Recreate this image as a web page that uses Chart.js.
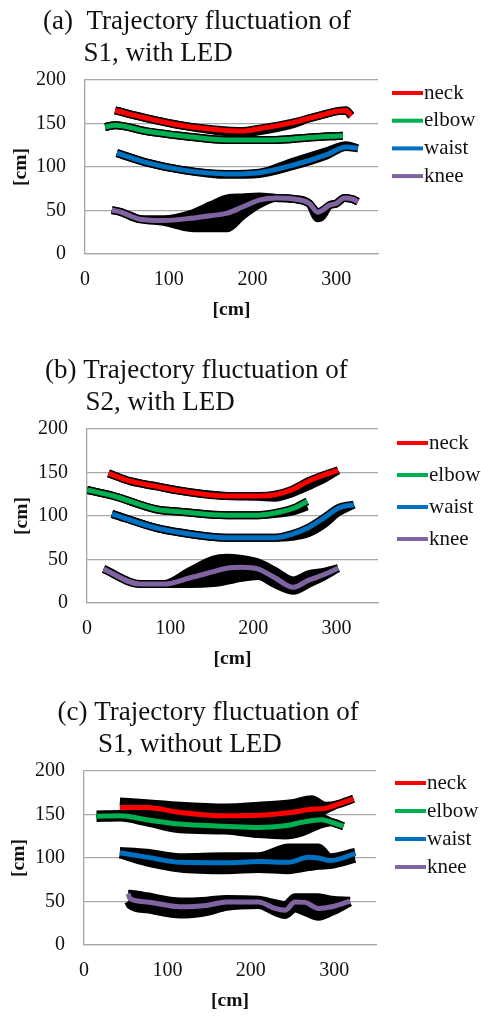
<!DOCTYPE html>
<html>
<head>
<meta charset="utf-8">
<script src="https://cdn.jsdelivr.net/npm/chart.js@4.4.1/dist/chart.umd.min.js"></script>
<style>
  html, body { margin: 0; padding: 0; background: #fff; }
  body { width: 481px; height: 1017px; position: relative; overflow: hidden; }
  canvas { position: absolute; left: 0; }
</style>
</head>
<body>
<canvas id="chartA" width="481" height="326" style="top:0px"></canvas>
<canvas id="chartB" width="481" height="326" style="top:349px"></canvas>
<canvas id="chartC" width="481" height="326" style="top:691px"></canvas>
<script>
// Labels / ticks
const partNames = ['neck', 'elbow', 'waist', 'knee'];
const partColors = ['#ff0000', '#00b050', '#0070c0', '#8064a2'];
const yTicks = [0, 50, 100, 150, 200];
const xTicks = [0, 100, 200, 300];

// (a) S1, with LED  -- x, centre line, upper / lower edge of the black fluctuation band
const aNeckX  = [36, 74, 114, 170, 190, 208, 248, 268, 288, 300, 312, 318];
const aNeckY  = [165, 156, 148, 142, 141.5, 144, 151, 156, 161, 164, 165, 159];
const aNeckHi = [165, 156, 148, 142, 141.5, 144, 151, 156, 161, 164, 165, 159];
const aNeckLo = [165, 156, 148, 140, 139, 141, 149, 156, 161, 164, 165, 159];
const aElbowX  = [24, 36, 74, 114, 170, 228, 268, 308];
const aElbowY  = [146, 148, 141, 136, 131, 131, 134, 136];
const aElbowHi = [146, 148, 141, 136, 131, 131, 134, 136];
const aElbowLo = [146, 148, 141, 136, 131, 131, 134, 136];
const aWaistX  = [38, 74, 114, 170, 208, 248, 288, 312, 326];
const aWaistY  = [116, 105, 97, 92, 93.5, 102, 114, 123, 121.5];
const aWaistHi = [116, 105, 97, 92, 93.5, 106, 118, 125, 121.5];
const aWaistLo = [116, 105, 97, 91, 92, 101, 113, 123, 121.5];
const aKneeX  = [32, 42, 66, 94, 126, 150, 170, 188, 208, 228, 252, 268, 278, 284, 292, 300, 310, 320, 326];
const aKneeY  = [50.5, 48.5, 40, 38.5, 41, 44, 47, 54, 62, 64.5, 63, 58, 48, 50.5, 56, 58, 64.5, 63, 60];
const aKneeHi = [50.5, 48.5, 40, 40, 46, 56, 64, 65, 66, 64.5, 63, 58, 48, 50.5, 56, 58, 64.5, 63, 60];
const aKneeLo = [50.5, 48.5, 40, 37, 30, 29.5, 29.5, 44, 57, 64.5, 63, 58, 41, 44, 56, 58, 64.5, 63, 60];

// (b) S2, with LED
const bNeckX  = [26, 52, 84, 112, 168, 206, 226, 246, 266, 286, 302];
const bNeckY  = [149, 140, 134, 129, 123, 123, 124.5, 130, 140, 147.5, 152.5];
const bNeckHi = [149, 140, 134, 129, 123, 123, 124.5, 130, 140, 147.5, 152.5];
const bNeckLo = [149, 140, 134, 129, 123, 122, 121, 126, 134, 143, 152.5];
const bElbowX  = [0, 32, 84, 112, 168, 206, 234, 250, 265];
const bElbowY  = [130, 123, 107.5, 105, 101, 101, 105, 109.5, 117];
const bElbowHi = [130, 123, 107.5, 105, 101, 101, 105, 109.5, 117];
const bElbowLo = [130, 123, 107.5, 105, 101, 101, 103, 106, 111];
const bWaistX  = [30, 84, 112, 168, 226, 246, 266, 286, 302, 321];
const bWaistY  = [102.5, 86, 81, 75, 75, 79, 86.5, 98.5, 109, 113];
const bWaistHi = [102.5, 86, 81, 75, 75, 79, 86.5, 98.5, 109, 113];
const bWaistLo = [102.5, 86, 81, 75, 75, 76, 80, 91, 104, 113];
const bKneeX  = [20, 64, 92, 124, 152, 168, 186, 206, 226, 248, 266, 286, 302];
const bKneeY  = [39, 21.7, 21.7, 29, 36, 40, 41, 39, 29, 18, 26, 33, 40];
const bKneeHi = [39, 21.7, 21.7, 37, 50, 52, 50.5, 46.5, 37, 26, 33, 36, 40];
const bKneeLo = [39, 21.7, 21.7, 21.7, 23, 25.5, 29, 31, 21.7, 14, 21.7, 31, 40];

// (c) S1, without LED
const cNeckX  = [43, 75, 115, 170, 209, 249, 273, 289, 305, 323];
const cNeckY  = [158, 158, 152.5, 148.5, 149, 152.5, 156, 157, 162, 168];
const cNeckHi = [165, 163, 160, 158, 160, 163, 167.5, 160, 162, 168];
const cNeckLo = [154, 152, 147, 143, 141, 143, 147, 155, 162, 168];
const cElbowX  = [15, 43, 75, 115, 169, 209, 241, 261, 285, 297, 311];
const cElbowY  = [148, 148.5, 144, 139, 136.5, 135, 137, 141, 144, 141, 136.5];
const cElbowHi = [150, 150.5, 146, 141, 138.5, 137, 140, 144, 146, 141, 136.5];
const cElbowLo = [146, 146.5, 141, 133, 131.5, 127.5, 126, 129.5, 139, 141, 136.5];
const cWaistX  = [43, 75, 115, 171, 209, 245, 269, 281, 295, 325];
const cWaistY  = [106, 101, 95, 94.5, 96, 95, 101, 100, 97, 105];
const cWaistHi = [108, 106, 101, 102, 102, 112, 112, 112, 101, 107];
const cWaistLo = [104, 95, 88, 86, 87.5, 86, 89.5, 91, 92, 99];
const cKneeX  = [53, 55, 75, 115, 147, 171, 209, 229, 241, 253, 265, 281, 297, 319];
const cKneeY  = [59, 53.5, 49.5, 44, 45.5, 49.5, 49.5, 42, 40, 49.5, 49, 42, 44, 50.5];
const cKneeHi = [59, 59, 56, 50, 51, 53, 52, 48, 46, 55, 55, 55, 52, 51];
const cKneeLo = [50, 46, 41, 35, 38, 44, 46, 38, 34.5, 42, 38, 32.5, 38, 49];

const serif = "'Liberation Serif', 'Times New Roman', serif";
const gridGray = '#a6a6a6';
const textColor = '#111';

function pts(xs, ys) {
    return xs.map((x, i) => ({x: x, y: ys[i]}));
}

// legend drawn to the right of the plot, line sample touching the text
const sideLegend = {
    id: 'sideLegend',
    afterDraw(chart, args, opts) {
        const {ctx, chartArea} = chart;
        ctx.save();
        ctx.font = '21px ' + serif;
        ctx.textAlign = 'left';
        ctx.textBaseline = 'alphabetic';
        chart.data.datasets.filter(d => d.label).forEach((d, i) => {
            const y = chartArea.top + opts.top + i * opts.gap;
            ctx.strokeStyle = d.borderColor;
            ctx.lineWidth = 4;
            ctx.beginPath();
            ctx.moveTo(opts.x, y);
            ctx.lineTo(opts.x + 31, y);
            ctx.stroke();
            ctx.fillStyle = textColor;
            ctx.fillText(d.label, opts.x + 32, y + 5.5);
        });
        ctx.restore();
    }
};

function buildPanel(id, titleLines, series, p) {
    const datasets = [];
    series.forEach((s, i) => {
        datasets.push({data: pts(s[0], s[2]), borderColor: '#000', borderWidth: 8, fill: false, order: 1});
        datasets.push({data: pts(s[0], s[3]), borderColor: '#000', borderWidth: 8, backgroundColor: '#000', fill: '-1', order: 1});
        datasets.push({label: partNames[i], data: pts(s[0], s[1]), borderColor: partColors[i], borderWidth: 5, fill: false, order: 0});
    });

    new Chart(document.getElementById(id), {
        type: 'line',
        data: {datasets},
        plugins: [sideLegend],
        options: {
            responsive: false,
            animation: false,
            layout: {padding: {left: p.left, right: p.right, top: 0, bottom: 0}},
            elements: {
                point: {radius: 0, hoverRadius: 0},
                line: {cubicInterpolationMode: 'monotone'}
            },
            plugins: {
                legend: {display: false},
                tooltip: {enabled: false},
                title: {
                    display: true, align: 'start', text: titleLines, color: textColor,
                    font: {family: serif, size: 27, weight: 'normal', lineHeight: '32px'},
                    padding: {top: 6, bottom: 10}
                },
                sideLegend: {x: p.legendX, top: p.legendTop, gap: p.legendGap}
            },
            scales: {
                x: {
                    type: 'linear', min: 0, max: 350,
                    afterBuildTicks: s => { s.ticks = xTicks.map(v => ({value: v})); },
                    afterFit: s => { s.height = 72; },
                    grid: {display: false, drawTicks: false},
                    border: {display: true, color: gridGray, width: 1.3},
                    ticks: {padding: 14, color: textColor, font: {family: serif, size: 20}},
                    title: {display: true, text: '[cm]', color: textColor,
                        font: {family: serif, size: 19.5, weight: 'bold', lineHeight: 1.2},
                        padding: {top: 0, bottom: 4}}
                },
                y: {
                    min: 0, max: 200,
                    afterBuildTicks: s => { s.ticks = yTicks.map(v => ({value: v})); },
                    afterFit: s => { s.width = p.yWidth; },
                    grid: {color: gridGray, lineWidth: 1.3, drawTicks: false},
                    border: {display: true, color: gridGray, width: 1.3},
                    ticks: {padding: 19, color: textColor, font: {family: serif, size: 20}},
                    title: {display: true, text: '[cm]', color: textColor,
                        font: {family: serif, size: 19.5, weight: 'bold', lineHeight: 1.2},
                        padding: {top: p.yTitlePad, bottom: 0}}
                }
            }
        }
    });
}

buildPanel('chartA', ['  (a)  Trajectory fluctuation of', '        S1, with LED'], [
    [aNeckX, aNeckY, aNeckHi, aNeckLo],
    [aElbowX, aElbowY, aElbowHi, aElbowLo],
    [aWaistX, aWaistY, aWaistHi, aWaistLo],
    [aKneeX, aKneeY, aKneeHi, aKneeLo]
], {left: 29.5, right: 103, yWidth: 55.5, yTitlePad: -20.5, legendX: 392, legendTop: 13, legendGap: 27.7});

buildPanel('chartB', ['  (b) Trajectory fluctuation of', '        S2, with LED'], [
    [bNeckX, bNeckY, bNeckHi, bNeckLo],
    [bElbowX, bElbowY, bElbowHi, bElbowLo],
    [bWaistX, bWaistY, bWaistHi, bWaistLo],
    [bKneeX, bKneeY, bKneeHi, bKneeLo]
], {left: 31.5, right: 103, yWidth: 55.5, yTitlePad: -21.2, legendX: 397, legendTop: 14, legendGap: 32});

buildPanel('chartC', ['    (c) Trajectory fluctuation of', '          S1, without LED'], [
    [cNeckX, cNeckY, cNeckHi, cNeckLo],
    [cElbowX, cElbowY, cElbowHi, cElbowLo],
    [cWaistX, cWaistY, cWaistHi, cWaistLo],
    [cKneeX, cKneeY, cKneeHi, cKneeLo]
], {left: 30.5, right: 105, yWidth: 53.5, yTitlePad: -23.2, legendX: 395, legendTop: 12, legendGap: 28});
</script>
</body>
</html>
